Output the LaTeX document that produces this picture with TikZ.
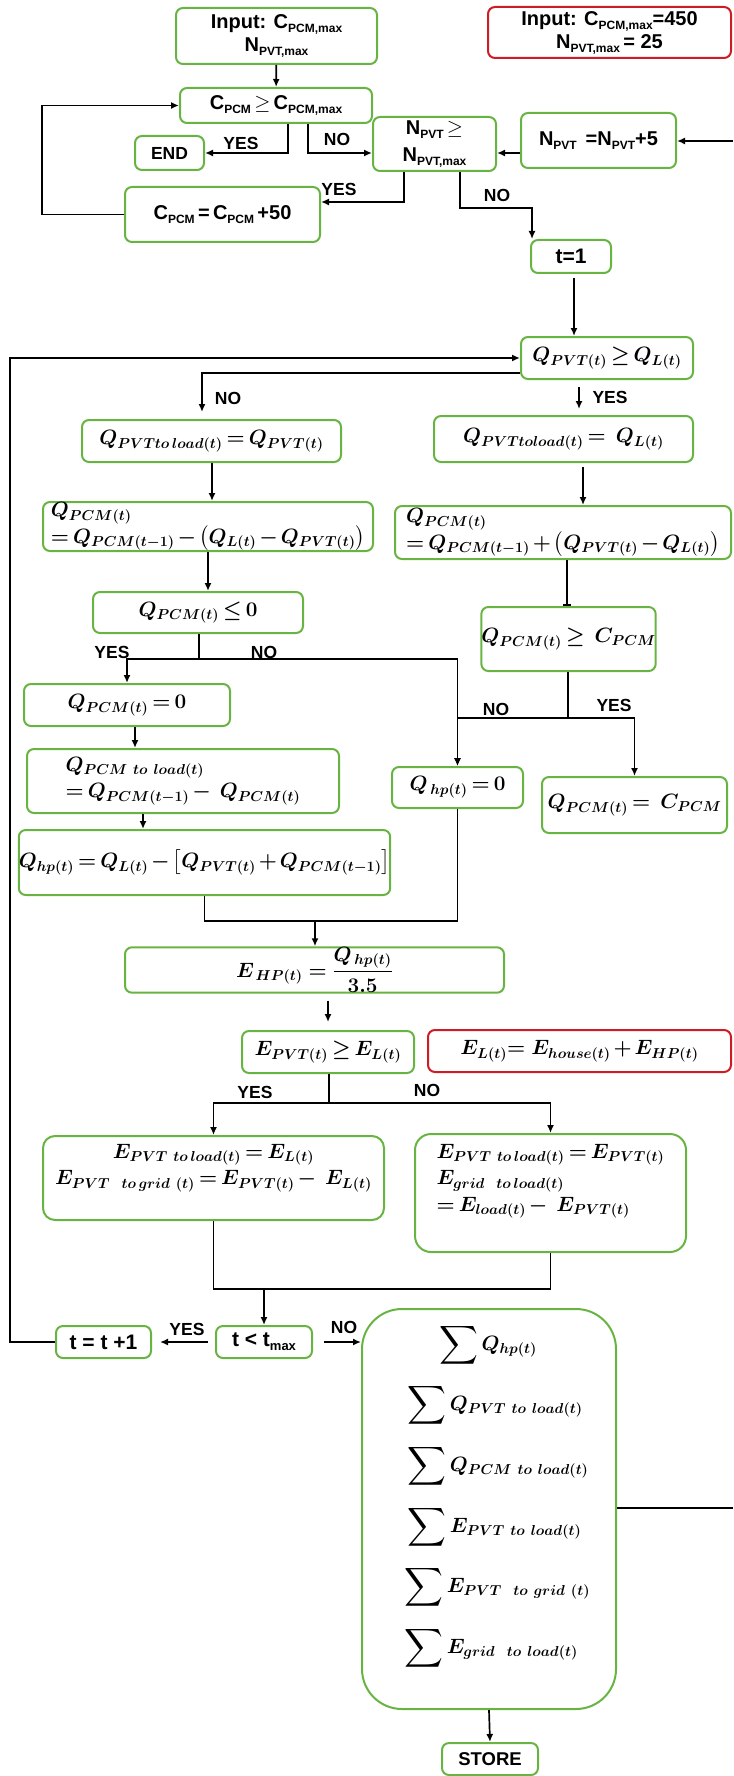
\documentclass[tikz,border=0pt]{standalone}
\usepackage{fontspec}
\usepackage{amsmath,bm,graphicx}
\usetikzlibrary{arrows.meta,calc}
\newfontfamily\lsans{Liberation Sans}
\definecolor{boxgreen}{RGB}{104,180,66}
\definecolor{boxred}{RGB}{206,28,36}
% lowered sans subscript
\newcommand{\lsub}[1]{\raisebox{-4pt}{\fontsize{12}{12}\selectfont #1}}
\newcommand{\tsub}[1]{\raisebox{-4pt}{\fontsize{13}{13}\selectfont #1}}
% bold math with tighter operator spacing
\newcommand{\mb}[1]{$\bm{#1}$}
\newcommand{\tightmath}{\medmuskip=2.5mu\thickmuskip=3.5mu}
\newcommand{\Sum}{\mathop{\vcenter{\hbox{\scalebox{1.3}{$\displaystyle\sum$}}}}\nolimits}
\newcommand{\sq}[1]{$\Sum\bm{#1}$}

\tikzset{
  fbox/.style={draw=boxgreen, line width=2pt, rounded corners=7pt, inner sep=0pt, align=center},
  rbox/.style={fbox, draw=boxred},
  sz/.style 2 args={minimum width=#1pt, minimum height=#2pt},
  sans/.style={font=\lsans\bfseries\fontsize{20}{23}\selectfont},
  tsans/.style={font=\lsans\bfseries\fontsize{21}{24}\selectfont},
  mth/.style={font={\fontsize{20}{26.5}\selectfont\tightmath}},
  lbl/.style={font=\lsans\bfseries\fontsize{17.5}{20}\selectfont, inner sep=0pt},
  arr/.style={line width=1.7pt, -{Latex[length=8pt,width=7pt]}},
  ln/.style={line width=1.7pt},
}

\begin{document}
\begin{tikzpicture}[x=1pt,y=-1pt]
\useasboundingbox (0,0) rectangle (733,1776);

% ---------- outer loop over PCM capacity and PVT count ----------
\node[fbox, sans, sz={201}{56}] (in1) at (276.5,36) {Input: C\lsub{PCM,max}\\N\lsub{PVT,max}};
\node[rbox, sans, sz={243}{51}] (in2) at (609.5,32.5) {Input: C\lsub{PCM,max}=450\\N\lsub{PVT,max}\,= 25};
\node[fbox, sans, sz={192}{35}] (c1) at (276,105.5) {C\lsub{PCM}\,$\geq$\,C\lsub{PCM,max}};
\node[fbox, lbl, sz={69}{34}, draw=boxgreen, line width=2pt, rounded corners=7pt] (endb) at (169.5,153) {END};
\node[fbox, sans, sz={123}{54}, font=\lsans\bfseries\fontsize{20}{27}\selectfont] (n1) at (434.5,144) {N\lsub{PVT}\,$\geq$\\N\lsub{PVT,max}};
\node[fbox, sans, sz={155}{55}] (n2) at (598.5,140.5) {N\lsub{PVT} \,=N\lsub{PVT}+5};
\node[fbox, sans, sz={195}{55}] (c2) at (222.5,214.5) {C\lsub{PCM}\,=\,C\lsub{PCM}\,+50};
\node[fbox, tsans, sz={80}{33}] (t1) at (571,256.5) {t=1};

% ---------- thermal balance ----------
\node[fbox, mth, sz={172}{42}] (q1) at (607,358) {\mb{Q_{PVT(t)} \geq Q_{L(t)}}};
\node[fbox, mth, sz={259}{42}] (qa) at (211.5,441) {\mb{Q_{PVTto\,load(t)} = Q_{PVT(t)}}};
\node[fbox, mth, sz={259}{46}] (qb) at (563.5,439) {\mb{Q_{PVTtoload(t)} =\ Q_{L(t)}}};
\node[fbox, mth, sz={330}{49}, align=left] (pa) at (208,526.5)
  {\mb{Q_{PCM(t)}}\\\mb{= Q_{PCM(t-1)} - \bigl(Q_{L(t)} - Q_{PVT(t)}\bigr)}};
\node[fbox, mth, sz={336}{53}, align=left] (pb) at (563,532.5)
  {\mb{Q_{PCM(t)}}\\\mb{= Q_{PCM(t-1)} + \bigl(Q_{PVT(t)} - Q_{L(t)}\bigr)}};
\node[fbox, mth, sz={210}{41}] (da) at (198,612.5) {\mb{Q_{PCM(t)} \leq 0}};
\node[fbox, mth, sz={173}{64}] (db) at (568.5,639) {\mb{Q_{PCM(t)} \geq\ C_{PCM}}};
\node[fbox, mth, sz={206}{42}] (za) at (127,705) {\mb{Q_{PCM(t)} = 0}};
\node[fbox, mth, sz={312}{64}, align=left] (la) at (183,781)
  {\mb{Q_{PCM\ to\ load(t)}}\\\mb{= Q_{PCM(t-1)} -\ Q_{PCM(t)}}};
\node[fbox, mth, sz={371}{65}] (ha) at (204.5,862.5)
  {\mb{Q_{hp(t)} = Q_{L(t)} - \bigl[Q_{PVT(t)} + Q_{PCM(t-1)}\bigr]}};
\node[fbox, mth, sz={131}{41}] (hb) at (457.5,787.5) {\mb{Q_{\,hp(t)} = 0}};
\node[fbox, mth, sz={185}{56}] (cb) at (634.5,805) {\mb{Q_{PCM(t)} =\ C_{PCM}}};

% ---------- electrical balance ----------
\node[fbox, font=\fontsize{22}{28}\selectfont, sz={379}{44}] (eh) at (314.5,970)
  {\mb{E_{\,HP(t)} = \dfrac{Q_{\,hp(t)}}{3.5}}};
\node[fbox, mth, sz={172}{42}] (ec) at (328,1052) {\mb{E_{PVT(t)} \geq E_{L(t)}}};
\node[rbox, mth, sz={303}{42}] (el) at (579.5,1051) {\mb{E_{L(t)}{=}\ E_{house(t)} + E_{HP(t)}}};
\node[fbox, sz={341}{84}, rounded corners=12pt] (ea) at (213.5,1178) {};
\node[mth, align=center] at ([yshift=10pt]ea.center)
  {\mb{E_{PVT\ to\,load(t)} = E_{L(t)}}\\\mb{E_{PVT\ \ to\,grid\ (t)} = E_{PVT(t)} -\ E_{L(t)}}};
\node[fbox, sz={271}{118}, rounded corners=16pt] (eb) at (550.5,1193) {};
\node[mth, align=left] at ([yshift=12pt]eb.center)
  {\mb{E_{PVT\ to\,load(t)} = E_{PVT(t)}}\\\mb{E_{grid\ \ to\,load(t)}}\\\mb{= E_{load(t)} -\ E_{PVT(t)}}};

% ---------- time loop and results ----------
\node[fbox, tsans, sz={96}{32}] (tm) at (264,1342) {t < t\tsub{max}};
\node[fbox, tsans, sz={95}{32}] (tp) at (103.5,1342) {t = t +1};
\node[fbox, sz={254}{400}, rounded corners=40pt] (sm) at (489,1509) {};
\node[mth] at (488,1345) {\sq{Q_{hp(t)}}};
\node[mth, anchor=west] at (404,1405) {\sq{Q_{PVT\ to\ load(t)}}};
\node[mth, anchor=west] at (404,1466) {\sq{Q_{PCM\ to\ load(t)}}};
\node[mth, anchor=west] at (404,1527) {\sq{E_{PVT\ to\ load(t)}}};
\node[mth, anchor=west] at (401,1587) {\sq{E_{PVT\ \ to\ grid\ (t)}}};
\node[mth, anchor=west] at (401,1648) {\sq{E_{grid\ \ to\ load(t)}}};
\node[fbox, font=\lsans\bfseries\fontsize{18.5}{22}\selectfont, sz={96}{32}] (st) at (490,1759) {STORE};

\coordinate (re1) at (733,141);
\coordinate (re2) at (733,1508);

% ---------- connectors ----------
\draw[arr] (in1) -- (c1);
\draw[arr] (c1.south -| 288,0) |- (endb.east);
\draw[arr] (c1.south -| 308,0) |- (n1.west |- 0,153);
\draw[arr] (n2.west |- 0,153) -- (n1.east |- 0,153);
\draw[arr] (re1) -- (n2.east |- re1);
\draw[arr] (n1.south -| 404,0) |- (c2.east |- 0,202);
\draw[arr] (c2.west) -| (c1.west -| 42,0) -- (c1.west);
\draw[arr] (n1.south -| 460,0) |- (532,208) -- (t1.north -| 532,0);
\draw[arr, shorten <=4pt] (t1.south -| 574,0) -- (q1.north -| 574,0);

\draw[arr] (tp.west) -| (q1.west -| 10,0) -- (q1.west);
\draw[arr, shorten >=7pt] (q1.west |- 0,373) -| (qa.north -| 202,0);
\draw[arr, shorten <=7pt, shorten >=6pt] (q1.south -| 579,0) -- (qb.north -| 579,0);
\draw[arr] (qa.south -| 212,0) -- (pa.north -| 212,0);
\draw[arr, shorten <=4pt] (qb.south -| 583,0) -- (pb.north -| 583,0);
\draw[arr] (pa.south -| 208,0) -- (da.north -| 208,0);
\draw[ln, -{Bar[width=8pt]}] (pb.south -| 567,0) -- (db.north -| 567,0);

\coordinate (j1) at (199,659);
\draw[ln] (da.south -| j1) -- (j1);
\draw[arr] (j1) -| (za.north);
\draw[arr] (j1) -| (hb.north);
\coordinate (j3) at (568,718);
\draw[ln] (db.south -| j3) -- (j3);
\draw[arr] (j3) -| (hb.north);
\draw[arr] (j3) -| (cb.north);
\draw[arr] (za.south -| 135,0) -- (la.north -| 135,0);
\draw[arr] (la.south -| 143,0) -- (ha.north -| 143,0);

\coordinate (j2) at (315,921);
\draw[ln] (ha.south) |- (j2);
\draw[ln] (hb.south) |- (j2);
\draw[arr] (j2) -- (eh.north -| j2);
\draw[arr, shorten <=7pt, shorten >=8pt] (eh.south -| 328,0) -- (ec.north -| 328,0);

\coordinate (j4) at (329,1103);
\draw[ln] (ec.south -| j4) -- (j4);
\draw[arr] (j4) -| (ea.north);
\draw[arr] (j4) -| (eb.north);
\coordinate (j5) at (264,1289);
\draw[ln] (ea.south) |- (j5);
\draw[ln] (eb.south) |- (j5);
\draw[arr] (j5) -- (tm.north);

\draw[arr, shorten <=7pt, shorten >=8pt] (tm.west) -- (tp.east);
\draw[arr, shorten <=11pt] (tm.east) -- (sm.west |- tm.east);
\draw[ln] (sm.east |- re2) -- (re2);
\draw[arr] (sm.south) -- (st.north);

% ---------- branch labels ----------
\node[lbl] at (241,143) {YES};
\node[lbl] at (337,139) {NO};
\node[lbl] at (339,189) {YES};
\node[lbl] at (497,195) {NO};
\node[lbl] at (228,398) {NO};
\node[lbl] at (610,397) {YES};
\node[lbl] at (112,652) {YES};
\node[lbl] at (264,652) {NO};
\node[lbl] at (496,709) {NO};
\node[lbl] at (614,705) {YES};
\node[lbl] at (255,1092) {YES};
\node[lbl] at (427,1090) {NO};
\node[lbl] at (187,1329) {YES};
\node[lbl] at (344,1327) {NO};
\end{tikzpicture}
\end{document}
